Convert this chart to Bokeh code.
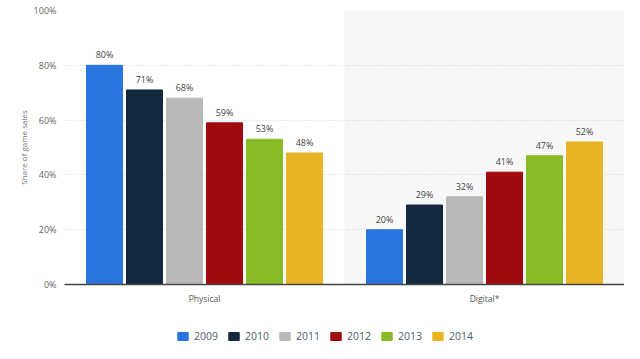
from bokeh.plotting import figure
from bokeh.layouts import column
from bokeh.models import (ColumnDataSource, FactorRange, Range1d, Legend, LegendItem,
                          PrintfTickFormatter, FixedTicker)
from bokeh.transform import dodge
from bokeh.core.properties import value
from bokeh.embed import file_html
from bokeh.resources import INLINE

categories = ["Physical", "Digital*"]
years = ["2009", "2010", "2011", "2012", "2013", "2014"]
physical = [80, 71, 68, 59, 53, 48]
digital = [20, 29, 32, 41, 47, 52]
colors = ["#2876dd", "#13273d", "#b9b9b9", "#a10a0c", "#8aba26", "#ebb326"]
yticks = [0, 20, 40, 60, 80, 100]

FONT = "Open Sans"

p = figure(width=624, height=310, output_backend="svg", toolbar_location=None,
           x_range=FactorRange(*categories, range_padding=0), y_range=Range1d(0, 100),
           min_border_left=64, min_border_right=0, min_border_top=10, min_border_bottom=26)
p.outline_line_color = None

# background band for second category
band = ColumnDataSource(dict(x=[categories[1]], top=[max(yticks)]))
p.vbar(x="x", top="top", bottom=0, width=1.0, source=band, fill_color="#f8f8f8",
       line_color=None, level="image")

px_per_cat = 280.0
step = 40.0 / px_per_cat
bw = 36.0 / px_per_cat

for i, yr in enumerate(years):
    src = ColumnDataSource(dict(cat=categories, val=[physical[i], digital[i]],
                                lab=[f"{physical[i]}%", f"{digital[i]}%"]))
    off = (i - 2.5) * step
    p.vbar(x=dodge("cat", off, range=p.x_range), top="val", bottom=0, width=bw,
           source=src, fill_color=colors[i], line_color=colors[i])
    p.text(x=dodge("cat", off, range=p.x_range), y="val", text="lab", source=src,
           text_align="center", text_baseline="bottom", y_offset=-4,
           text_font=value(FONT), text_font_size="9px", text_color="#444444")

p.yaxis.ticker = FixedTicker(ticks=yticks)
p.yaxis.formatter = PrintfTickFormatter(format="%d%%")
p.yaxis.axis_line_color = None
p.yaxis.major_tick_line_color = None
p.yaxis.minor_tick_line_color = None
p.yaxis.major_tick_out = 0
p.yaxis.minor_tick_out = 0
p.yaxis.major_label_text_font = FONT
p.yaxis.major_label_text_font_size = "9px"
p.yaxis.major_label_text_color = "#666666"
p.yaxis.major_label_standoff = 8
p.yaxis.axis_label = "Share of game sales"
p.yaxis.axis_label_text_font = FONT
p.yaxis.axis_label_text_font_size = "8px"
p.yaxis.axis_label_text_font_style = "normal"
p.yaxis.axis_label_text_color = "#777777"
p.yaxis.axis_label_standoff = 2

p.xaxis.axis_line_color = "#444444"
p.xaxis.axis_line_width = 1.5
p.xaxis.major_tick_line_color = None
p.xaxis.minor_tick_line_color = None
p.xaxis.major_tick_out = 0
p.xaxis.minor_tick_out = 0
p.xaxis.axis_label_standoff = 0
p.xaxis.major_label_text_font = FONT
p.xaxis.major_label_text_font_size = "8.5px"
p.xaxis.major_label_text_color = "#555555"
p.xaxis.major_label_standoff = 8

p.xgrid.grid_line_color = None
p.ygrid.grid_line_color = "#d0d0d0"
p.ygrid.grid_line_dash = "1 2"

# legend in its own strip below the chart
lg = figure(width=624, height=33, output_backend="svg", toolbar_location=None,
            x_range=FactorRange(*categories), y_range=Range1d(0, 100),
            x_axis_location=None, y_axis_location=None,
            min_border_left=0, min_border_right=0, min_border_top=0, min_border_bottom=0)
lg.grid.visible = False
lg.outline_line_color = None
items = []
for i, yr in enumerate(years):
    src = ColumnDataSource(dict(cat=categories, val=[physical[i], digital[i]]))
    r = lg.vbar(x="cat", top="val", width=0.5, source=src,
                fill_color=colors[i], line_color=colors[i], visible=False)
    items.append(LegendItem(label=yr, renderers=[r]))

legend = Legend(items=items, orientation="horizontal", location=(112, 0),
                label_text_font=FONT, label_text_font_size="10.5px",
                label_text_color="#4e5d6c", glyph_width=13, glyph_height=10,
                label_height=10, spacing=9, label_standoff=5, border_line_color=None,
                background_fill_alpha=0, margin=0, padding=0,
                inactive_fill_alpha=0)
lg.add_layout(legend, "center")

layout = column(p, lg, spacing=0)
open("out.html", "w").write(file_html(layout, INLINE))
